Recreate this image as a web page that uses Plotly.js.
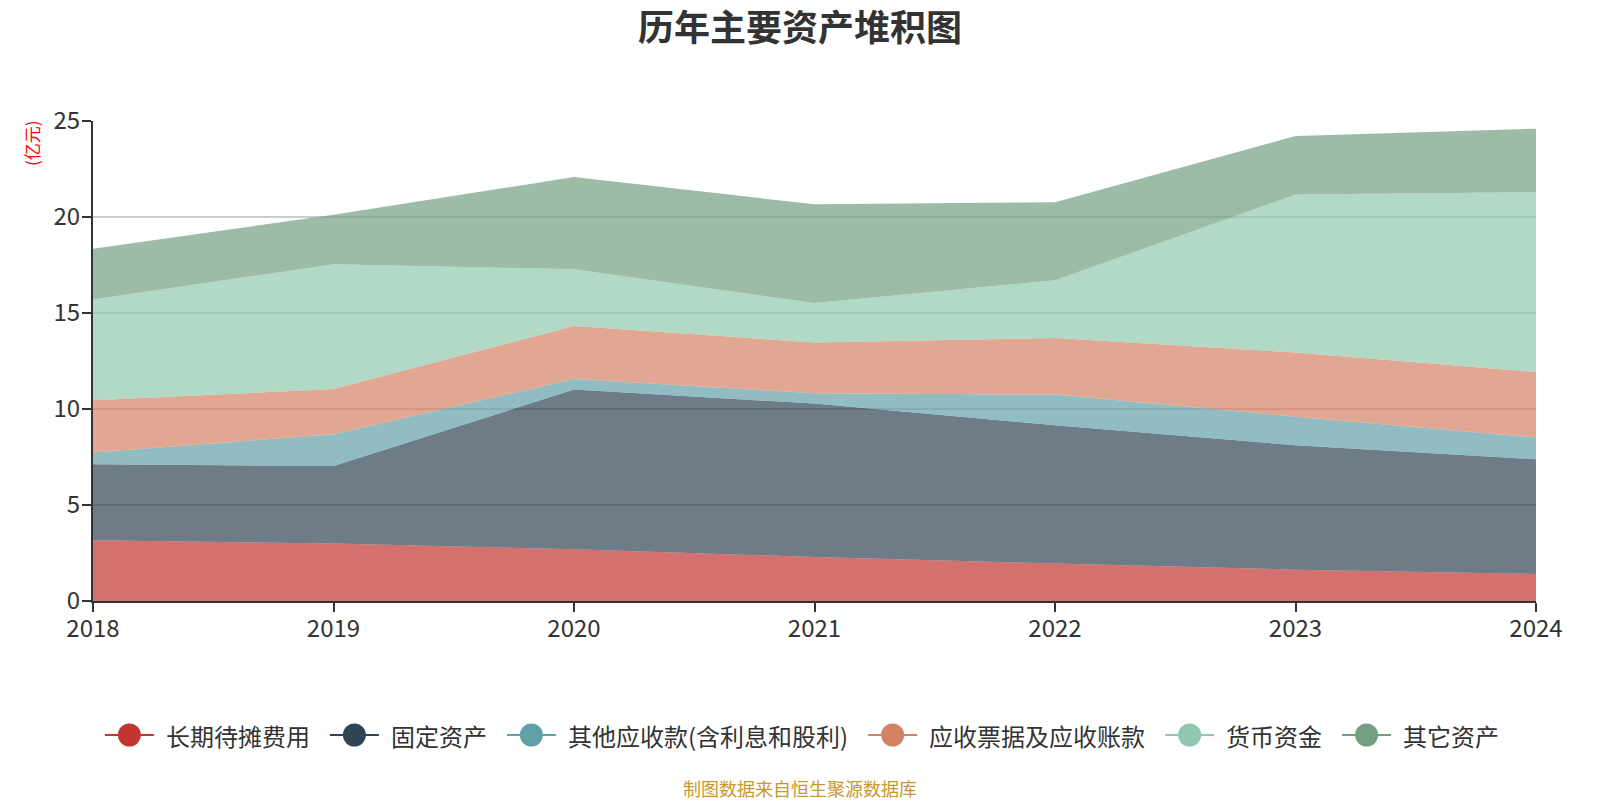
<!DOCTYPE html>
<html>
<head>
<meta charset="utf-8">
<script src="https://cdn.plot.ly/plotly-3.0.1.min.js"></script>
<style>html,body{margin:0;padding:0;background:#fff;}#chart{width:1600px;height:800px;}</style>
</head>
<body>
<div id="chart"></div>
<script>
const years = [2018, 2019, 2020, 2021, 2022, 2023, 2024];
const seriesNames = ['长期待摊费用', '固定资产', '其他应收款(含利息和股利)', '应收票据及应收账款', '货币资金', '其它资产'];
const 长期待摊费用 = [3.16, 3.00, 2.69, 2.29, 1.95, 1.63, 1.41];
const 固定资产 = [3.96, 4.03, 8.32, 7.99, 7.20, 6.48, 5.97];
const 其他应收款 = [0.61, 1.65, 0.55, 0.54, 1.60, 1.49, 1.13];
const 应收票据及应收账款 = [2.72, 2.36, 2.76, 2.64, 2.95, 3.34, 3.42];
const 货币资金 = [5.25, 6.50, 2.96, 2.06, 3.00, 8.23, 9.37];
const 其它资产 = [2.65, 2.58, 4.80, 5.14, 4.07, 3.05, 3.30];
const seriesValues = [长期待摊费用, 固定资产, 其他应收款, 应收票据及应收账款, 货币资金, 其它资产];
const colors = ['#c23531', '#2f4554', '#61a0a8', '#d48265', '#91c7ae', '#749f83'];
const yTicks = [0, 5, 10, 15, 20, 25];

function rgba(hex, a) {
  const n = parseInt(hex.slice(1), 16);
  return `rgba(${(n >> 16) & 255},${(n >> 8) & 255},${n & 255},${a})`;
}

const FONT = '"Noto Sans CJK SC", "Noto Sans", sans-serif';
const W = 1600, H = 800;
const M = {l: 93, r: 64, t: 121, b: 199};
const PW = W - M.l - M.r, PH = H - M.t - M.b;
const px2x = p => (p - M.l) / PW;
const py2y = p => (H - M.b - p) / PH;

const traces = seriesValues.map((vals, i) => ({
  type: 'scatter', mode: 'lines', x: years, y: vals, name: seriesNames[i],
  stackgroup: 'one', fillcolor: rgba(colors[i], 0.7),
  line: {width: 0, color: colors[i]}, showlegend: false
}));

// custom legend (line + big circle + text), laid out like the reference
const LEG_FONT = 24;
const ctx = document.createElement('canvas').getContext('2d');
ctx.font = LEG_FONT + 'px ' + FONT;
const widths = seriesNames.map(s => ctx.measureText(s).width);
const LINE = 49, GAP_T = 12, GAP_I = 20;
const total = widths.reduce((a, w) => a + LINE + GAP_T + w, 0) + GAP_I * (widths.length - 1);
let cur = W / 2 - total / 2 + 2;
const legY = py2y(735);
const shapes = [], annotations = [];
seriesNames.forEach((s, i) => {
  shapes.push({type: 'line', xref: 'paper', yref: 'paper', x0: px2x(cur), x1: px2x(cur + LINE),
               y0: legY, y1: legY, line: {color: colors[i], width: 2}});
  shapes.push({type: 'circle', xref: 'paper', yref: 'paper', xsizemode: 'pixel', ysizemode: 'pixel',
               xanchor: px2x(cur + LINE / 2), yanchor: legY, x0: -11.5, x1: 11.5, y0: -11.5, y1: 11.5,
               fillcolor: colors[i], line: {width: 0}});
  annotations.push({text: s, xref: 'paper', yref: 'paper', x: px2x(cur + LINE + GAP_T), xanchor: 'left',
                    xshift: -2, y: legY, yanchor: 'middle', showarrow: false,
                    font: {size: LEG_FONT, color: '#333'}});
  cur += LINE + GAP_T + widths[i] + GAP_I;
});

annotations.push({text: '(亿元)', xref: 'paper', yref: 'paper', x: px2x(32), xanchor: 'center',
  y: py2y(143), yanchor: 'middle', showarrow: false, textangle: -90,
  font: {size: 17, color: '#ff0000'}});
annotations.push({text: '制图数据来自恒生聚源数据库', xref: 'paper', yref: 'paper', x: 0.5 + (W / 2 - M.l - PW / 2) / PW,
  xanchor: 'center', y: py2y(788), yanchor: 'middle', showarrow: false,
  font: {size: 18, color: '#c9972d'}});

const layout = {
  width: W, height: H,
  paper_bgcolor: '#fff', plot_bgcolor: '#fff',
  margin: {l: M.l, r: M.r, t: M.t, b: M.b, pad: 0},
  font: {family: FONT, color: '#333', size: 24},
  title: {text: '<b>历年主要资产堆积图</b>', font: {size: 36, color: '#333', family: FONT},
          x: 0.5, xanchor: 'center', y: 1 - 28 / H, yref: 'container', yanchor: 'middle'},
  xaxis: {
    range: [2018, 2024], tickvals: years, ticktext: years.map(String),
    showline: true, linecolor: '#333', linewidth: 2, ticks: 'outside', ticklen: 9,
    tickcolor: '#333', tickwidth: 2, showgrid: false, zeroline: false,
    tickfont: {size: 24, color: '#333'}, ticklabelstandoff: -4
  },
  yaxis: {
    range: [0, 25], tickvals: yTicks, showline: true, linecolor: '#333', linewidth: 2,
    ticks: 'outside', ticklen: 9, tickcolor: '#333', tickwidth: 2,
    showgrid: true, gridcolor: '#cccccc', gridwidth: 2, zeroline: false,
    tickfont: {size: 24, color: '#333'}, ticklabelstandoff: -3
  },
  shapes: shapes,
  annotations: annotations,
  showlegend: false
};

Plotly.newPlot('chart', traces, layout, {displayModeBar: false, staticPlot: true});
</script>
</body>
</html>
